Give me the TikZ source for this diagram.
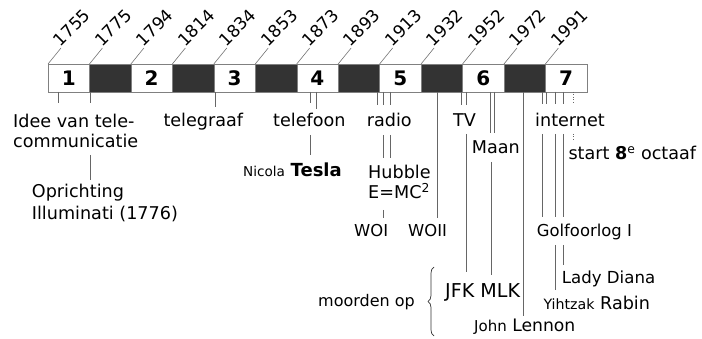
\documentclass[tikz,border=0pt]{standalone}
\usepackage{fontspec}
\setmainfont{DejaVu Sans}
\usetikzlibrary{positioning,decorations.pathreplacing}

\definecolor{bardark}{HTML}{333333}

\tikzset{
  seglit/.style={draw=black!50,fill=white,minimum width=41.45pt,minimum height=28pt,inner sep=0pt,outer sep=0pt,font=\fontsize{20}{24}\selectfont\bfseries},
  segdark/.style={seglit,fill=bardark},
  yr/.style={rotate=45,anchor=south west,inner sep=0.3pt,font=\fontsize{17}{20}\selectfont},
  yrline/.style={draw=black!55,line width=0.6pt},
  tick/.style={draw=black!60,line width=0.7pt},
  lbl/.style={anchor=base west,inner sep=0pt,font=\fontsize{17.6}{21}\selectfont},
}

\begin{document}
\begin{tikzpicture}[x=1pt,y=-1pt]
\useasboundingbox (0,0) rectangle (702,339);

% de balk
\node[seglit] (seg1) at (68.73,78) {1};
\node[segdark,right=0pt of seg1] (gap1) {};
\node[seglit,right=0pt of gap1] (seg2) {2};
\node[segdark,right=0pt of seg2] (gap2) {};
\node[seglit,right=0pt of gap2] (seg3) {3};
\node[segdark,right=0pt of seg3] (gap3) {};
\node[seglit,right=0pt of gap3] (seg4) {4};
\node[segdark,right=0pt of seg4] (gap4) {};
\node[seglit,right=0pt of gap4] (seg5) {5};
\node[segdark,right=0pt of seg5] (gap5) {};
\node[seglit,right=0pt of gap5] (seg6) {6};
\node[segdark,right=0pt of seg6] (gap6) {};
\node[seglit,right=0pt of gap6] (seg7) {7};

% jaartallen
\node[yr] (y1755) at ([shift={(13pt,16pt)}]seg1.north west) {1755};
\node[yr] (y1775) at ([shift={(13pt,16pt)}]gap1.north west) {1775};
\node[yr] (y1794) at ([shift={(13pt,16pt)}]seg2.north west) {1794};
\node[yr] (y1814) at ([shift={(13pt,16pt)}]gap2.north west) {1814};
\node[yr] (y1834) at ([shift={(13pt,16pt)}]seg3.north west) {1834};
\node[yr] (y1853) at ([shift={(13pt,16pt)}]gap3.north west) {1853};
\node[yr] (y1873) at ([shift={(13pt,16pt)}]seg4.north west) {1873};
\node[yr] (y1893) at ([shift={(13pt,16pt)}]gap4.north west) {1893};
\node[yr] (y1913) at ([shift={(13pt,16pt)}]seg5.north west) {1913};
\node[yr] (y1932) at ([shift={(13pt,16pt)}]gap5.north west) {1932};
\node[yr] (y1952) at ([shift={(13pt,16pt)}]seg6.north west) {1952};
\node[yr] (y1972) at ([shift={(13pt,16pt)}]gap6.north west) {1972};
\node[yr] (y1991) at ([shift={(13pt,16pt)}]seg7.north west) {1991};
\draw[yrline] (seg1.north west) -- (y1755.south west);
\draw[yrline] (gap1.north west) -- (y1775.south west);
\draw[yrline] (seg2.north west) -- (y1794.south west);
\draw[yrline] (gap2.north west) -- (y1814.south west);
\draw[yrline] (seg3.north west) -- (y1834.south west);
\draw[yrline] (gap3.north west) -- (y1853.south west);
\draw[yrline] (seg4.north west) -- (y1873.south west);
\draw[yrline] (gap4.north west) -- (y1893.south west);
\draw[yrline] (seg5.north west) -- (y1913.south west);
\draw[yrline] (gap5.north west) -- (y1932.south west);
\draw[yrline] (seg6.north west) -- (y1952.south west);
\draw[yrline] (gap6.north west) -- (y1972.south west);
\draw[yrline] (seg7.north west) -- (y1991.south west);

% gebeurtenissen
\node[lbl] (idee) at (13,128) {Idee van tele-};
\node[lbl] (comm) at ([yshift=-20pt]idee.base west) {communicatie};
\node[lbl] (oprichting) at (31.7,198) {Oprichting};
\node[lbl] (illum) at ([yshift=-22pt]oprichting.base west) {Illuminati (1776)};
\node[lbl] (telegraaf) at (163.3,127) {telegraaf};
\node[lbl] (telefoon) at (273,127) {telefoon};
\node[lbl] (tesla) at (243,177) {{\fontsize{13.6}{16}\selectfont Nicola} {\fontsize{18}{21}\selectfont\bfseries Tesla}};
\node[lbl] (radio) at (366.7,127) {radio};
\node[lbl] (hubble) at (368,179) {Hubble};
\node[lbl] (emc) at ([yshift=-20pt]hubble.base west) {E=MC\textsuperscript{2}};
\node[lbl,font=\fontsize{16.4}{20}\selectfont] (woi) at (354,237) {WOI};
\node[lbl,font=\fontsize{16.4}{20}\selectfont] (woii) at (408,237) {WOII};
\node[lbl] (tv) at (453,127) {TV};
\node[lbl] (maan) at (471.7,153.3) {Maan};
\node[lbl] (internet) at (535,127) {internet};
\node[lbl] (octaaf) at (568.3,160) {start \textbf{8}\textsuperscript{e} octaaf};
\node[lbl,font=\fontsize{16.4}{20}\selectfont] (golf) at (536.7,236.7) {Golfoorlog I};
\node[lbl,font=\fontsize{16.6}{20}\selectfont] (diana) at (561.7,283.3) {Lady Diana};
\node[lbl] (rabin) at (543.3,309) {{\fontsize{14.2}{17}\selectfont Yihtzak} Rabin};
\node[lbl,font=\fontsize{19.1}{23}\selectfont] (jfk) at (445,298) {JFK MLK};
\node[lbl,font=\fontsize{17.2}{21}\selectfont] (lennon) at (474,331.7) {{\fontsize{15}{18}\selectfont John} Lennon};
\node[lbl,font=\fontsize{16}{20}\selectfont] (moorden) at (318,307) {moorden op};
\coordinate (brbot) at (434,336);
\coordinate (brtop) at (434,267);
\draw[black!80,line width=0.7pt,decorate,decoration={brace,amplitude=6pt}] (brbot) -- (brtop);

% streepjes onder de balk
\draw[tick] ([xshift=10.3pt]seg1.south west) -- ++(0,11);
\draw[tick] ([xshift=0.5pt]gap1.south west) -- ++(0,11);
\draw[tick] ([xshift=1.2pt]seg3.south west) -- ++(0,15);
\draw[tick] ([xshift=13.8pt]seg4.south west) -- ++(0,11);
\draw[tick] ([xshift=20pt]seg4.south west) -- ++(0,17);
\draw[tick] ([xshift=-2pt]seg5.south west) -- ++(0,13);
\draw[tick] ([xshift=4pt]seg5.south west) -- ++(0,13);
\draw[tick] ([xshift=10.4pt]seg5.south west) -- ++(0,13);
\draw[tick] ([xshift=16.3pt]gap5.south west) -- ++(0,126);
\draw[tick] ([xshift=-1pt]seg6.south west) -- ++(0,13);
\draw[tick] ([xshift=3.5pt]seg6.south west) -- ++(0,13);
\draw[tick] ([xshift=27.5pt]seg6.south west) -- ++(0,41);
\draw[tick] ([xshift=31.8pt]seg6.south west) -- ++(0,41);
\draw[tick] ([xshift=19.4pt]gap6.south west) -- ++(0,224);
\draw[tick] ([xshift=-2.9pt]seg7.south west) -- ++(0,12);
\draw[tick] ([xshift=1pt]seg7.south west) -- ++(0,12);
\draw[tick] ([xshift=10.1pt]seg7.south west) -- ++(0,12);
\draw[tick] ([xshift=18pt]seg7.south west) -- ++(0,12);
\draw[tick,dash pattern=on 1pt off 1.5pt] ([xshift=27.6pt]seg7.south west) -- ++(0,12);

% streepjes tussen de teksten
\draw[tick] (90,155) -- (90,180);
\draw[tick] (310.5,135) -- (310.5,155);
\draw[tick] (383.6,135) -- (383.6,158);
\draw[tick] (390,135) -- (390,158);
\draw[tick] (383.6,210) -- (383.6,218);
\draw[tick] (466,134) -- (466,272);
\draw[tick] (491,162) -- (491,275);
\draw[tick] (542.5,134) -- (542.5,217);
\draw[tick] (555.5,134) -- (555.5,217);
\draw[tick] (563.4,134) -- (563.4,217);
\draw[tick] (555.5,245) -- (555.5,290);
\draw[tick] (563.4,245) -- (563.4,265);
\draw[tick,dash pattern=on 1pt off 1.5pt] (573,134) -- (573,141);
\end{tikzpicture}
\end{document}
